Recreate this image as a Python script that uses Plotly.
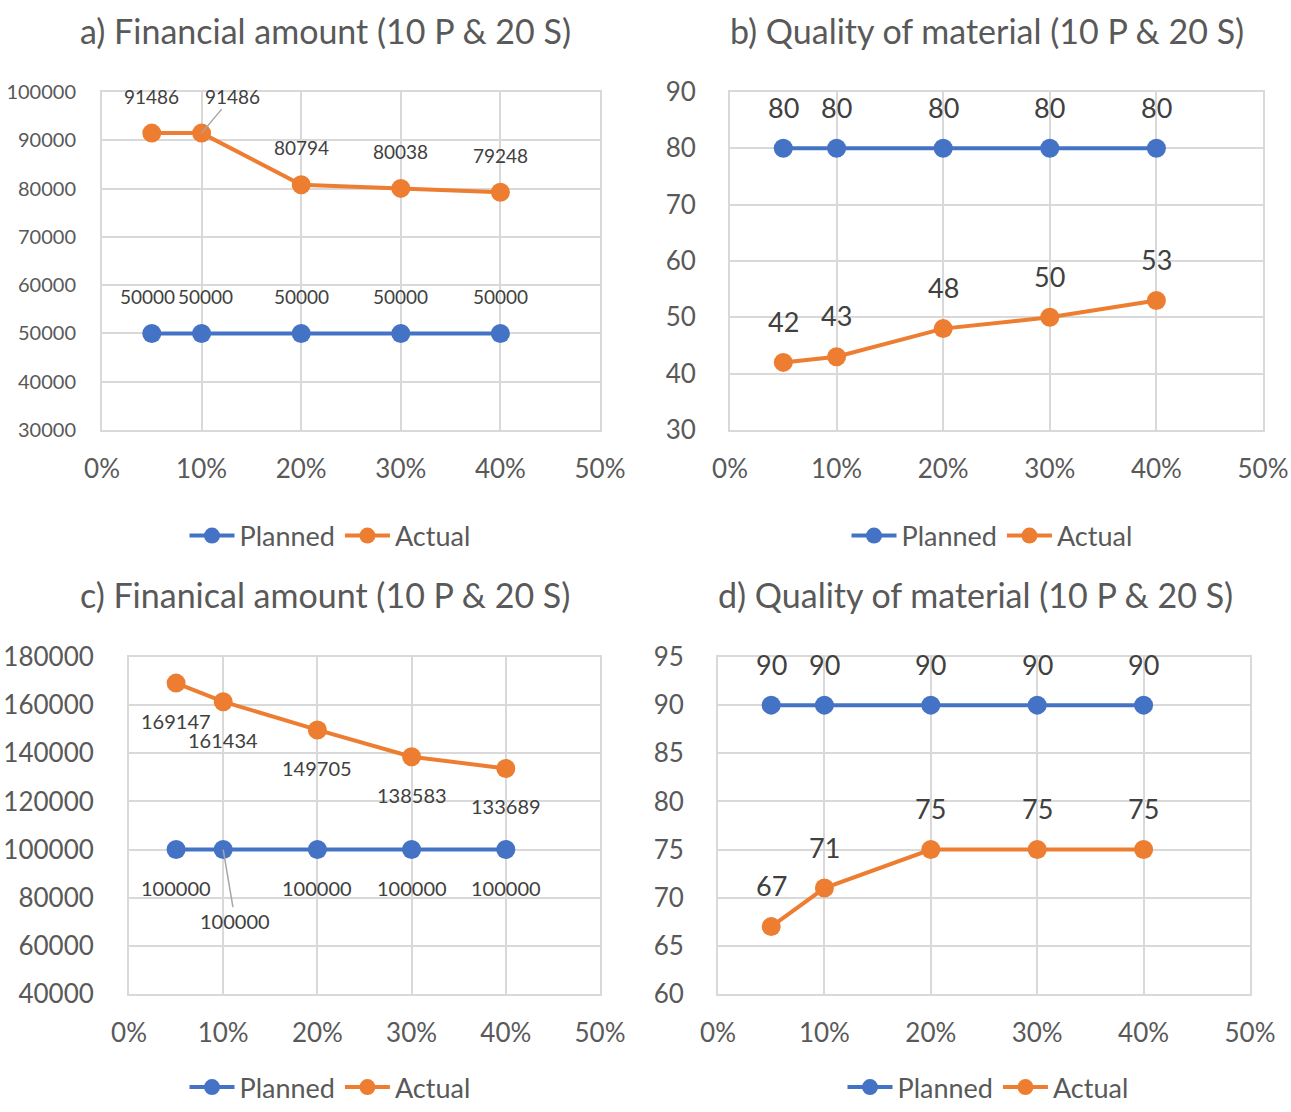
import plotly.graph_objects as go

W, H = 1291, 1112

x_pct = [0.05, 0.10, 0.20, 0.30, 0.40]

a_planned = [50000, 50000, 50000, 50000, 50000]
a_actual = [91486, 91486, 80794, 80038, 79248]
b_planned = [80, 80, 80, 80, 80]
b_actual = [42, 43, 48, 50, 53]
c_planned = [100000, 100000, 100000, 100000, 100000]
c_actual = [169147, 161434, 149705, 138583, 133689]
d_planned = [90, 90, 90, 90, 90]
d_actual = [67, 71, 75, 75, 75]

titles = ["a) Financial amount (10 P & 20 S)", "b) Quality of material (10 P & 20 S)",
          "c) Finanical amount (10 P & 20 S)", "d) Quality of material (10 P & 20 S)"]
series_names = ["Planned", "Actual"]

BLUE = "#4472C4"
ORANGE = "#ED7D31"
GRID = "#D9D9D9"
TICK = "#595959"
LABEL = "#404040"
FONT = "Lato"

def px_x(p):
    return p / W

def px_y(p):
    return 1 - p / H

panels = [
    dict(pl=a_planned, ac=a_actual, x0=102, x1=600, yt=92, yb=430, yr=[30000, 100000], dt=10000, ytf=20, lf=19,
         sp=37, sa=37, ysd=20, title_xy=(325, 30), leg_xy=(330, 536), leg_bottom=False),
    dict(pl=b_planned, ac=b_actual, x0=730, x1=1263, yt=92, yb=430, yr=[30, 90], dt=10, ytf=26, lf=27,
         sp=41, sa=41, ysd=27, title_xy=(987, 30), leg_xy=(992, 536), leg_bottom=False),
    dict(pl=c_planned, ac=c_actual, x0=129, x1=600, yt=657, yb=994, yr=[40000, 180000], dt=20000, ytf=26, lf=20,
         sp=-38, sa=-38, ysd=28, title_xy=(325, 594), leg_xy=(330, 1100), leg_bottom=True),
    dict(pl=d_planned, ac=d_actual, x0=718, x1=1250, yt=657, yb=994, yr=[60, 95], dt=5, ytf=26, lf=27,
         sp=41, sa=41, ysd=27, title_xy=(975, 594), leg_xy=(988, 1100), leg_bottom=True),
]

fig = go.Figure()
annotations = []
layout = {}

for i, p in enumerate(panels):
    n = "" if i == 0 else str(i + 1)
    xa, ya = "x" + n, "y" + n
    leg = "legend" + n
    for name, vals, col in [(series_names[0], p["pl"], BLUE), (series_names[1], p["ac"], ORANGE)]:
        fig.add_trace(go.Scatter(
            x=x_pct, y=vals, name=name, mode="lines+markers",
            line=dict(color=col, width=4), marker=dict(color=col, size=19),
            xaxis=xa, yaxis=ya, legend=leg, hoverinfo="x+y",
        ))
    layout["xaxis" + n] = dict(
        domain=[px_x(p["x0"]), px_x(p["x1"])], anchor=ya, range=[0, 0.5], dtick=0.1, tick0=0,
        tickformat=".0%", showgrid=True, gridcolor=GRID, gridwidth=2, showline=True, linecolor=GRID,
        linewidth=2, mirror=True, zeroline=False, ticks="", ticklabelstandoff=15, automargin=False,
        tickfont=dict(size=26, color=TICK, family=FONT), fixedrange=True,
    )
    layout["yaxis" + n] = dict(
        domain=[px_y(p["yb"]), px_y(p["yt"])], anchor=xa, range=p["yr"], dtick=p["dt"],
        tickformat="d", showgrid=True, gridcolor=GRID, gridwidth=2, showline=True, linecolor=GRID,
        linewidth=2, mirror=True, zeroline=False, ticks="", ticklabelstandoff=p["ysd"], automargin=False,
        tickfont=dict(size=p["ytf"], color=TICK, family=FONT), fixedrange=True,
    )
    if p["leg_bottom"]:
        ly, lya = 0.0, "bottom"
    else:
        ly, lya = px_y(p["leg_xy"][1]), "middle"
    layout[leg] = dict(
        orientation="h", x=px_x(p["leg_xy"][0]), y=ly, xanchor="center", yanchor=lya,
        xref="paper", yref="paper", font=dict(size=27, color=TICK, family=FONT), itemwidth=45,
        bgcolor="rgba(0,0,0,0)", tracegroupgap=0, itemclick=False,
    )
    annotations.append(dict(
        text=titles[i], x=px_x(p["title_xy"][0]), y=px_y(p["title_xy"][1]), xref="paper", yref="paper",
        xanchor="center", yanchor="middle", showarrow=False, font=dict(size=34, color=TICK, family=FONT),
    ))
    for k, (xv, yv) in enumerate(zip(x_pct, p["pl"])):
        if i == 2 and k == 1:
            annotations.append(dict(text=str(yv), x=xv, y=yv, xref=xa, yref=ya, showarrow=True,
                                    ax=12, ay=71, arrowhead=0, arrowwidth=1.5, arrowcolor="#A6A6A6",
                                    standoff=0, font=dict(size=p["lf"], color=LABEL, family=FONT)))
            continue
        xs = 0
        if i == 0 and k == 0:
            xs = -4
        elif i == 0 and k == 1:
            xs = 4
        annotations.append(dict(text=str(yv), x=xv, y=yv, xref=xa, yref=ya, showarrow=False,
                                yshift=p["sp"], xshift=xs, font=dict(size=p["lf"], color=LABEL, family=FONT)))
    for k, (xv, yv) in enumerate(zip(x_pct, p["ac"])):
        if i == 0 and k == 1:
            annotations.append(dict(text=str(yv), x=xv, y=yv, xref=xa, yref=ya, showarrow=True,
                                    ax=31, ay=-37, arrowhead=0, arrowwidth=1.5, arrowcolor="#A6A6A6",
                                    standoff=0, font=dict(size=p["lf"], color=LABEL, family=FONT)))
            continue
        annotations.append(dict(text=str(yv), x=xv, y=yv, xref=xa, yref=ya, showarrow=False,
                                yshift=p["sa"], font=dict(size=p["lf"], color=LABEL, family=FONT)))

fig.update_layout(
    width=W, height=H, margin=dict(l=0, r=0, t=0, b=0), plot_bgcolor="white", paper_bgcolor="white",
    font=dict(family=FONT, color=TICK), annotations=annotations, showlegend=True, **layout,
)

fig.write_html("out.html")
